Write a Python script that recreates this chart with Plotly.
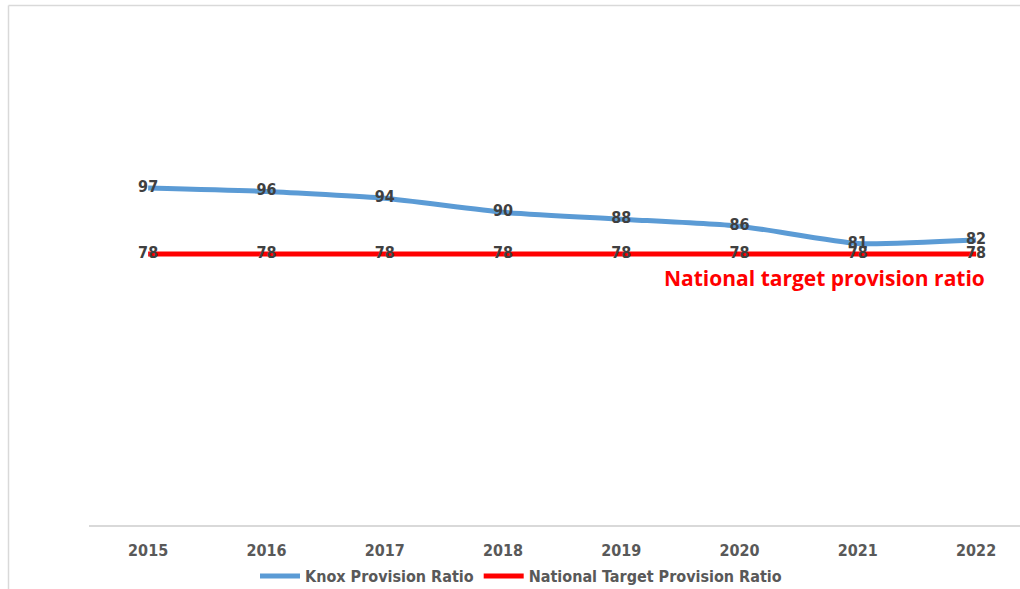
import plotly.graph_objects as go

years = ["2015", "2016", "2017", "2018", "2019", "2020", "2021", "2022"]
knox = [97, 96, 94, 90, 88, 86, 81, 82]
national = [78, 78, 78, 78, 78, 78, 78, 78]

idx = list(range(len(years)))
FONT = "Liberation Sans Narrow, DejaVu Sans Condensed, Roboto"
label_font = dict(family=FONT, size=16, color="#404040", weight="bold")

fig = go.Figure()
fig.add_trace(go.Scatter(
    x=idx, y=knox, mode="lines+text", name="Knox Provision Ratio",
    line=dict(color="#5B9BD5", width=5, shape="spline", smoothing=0.5),
    text=[str(v) for v in knox], textposition="middle center", textfont=label_font,
))
fig.add_trace(go.Scatter(
    x=idx, y=national, mode="lines+text", name="National Target Provision Ratio",
    line=dict(color="#FF0000", width=5),
    text=[str(v) for v in national], textposition="middle center", textfont=label_font,
))

fig.add_annotation(
    x=5.72, y=71.2, xref="x", yref="y", text="National target provision ratio",
    showarrow=False, borderpad=0,
    font=dict(family="Open Sans, Lato, sans-serif", size=21, color="#FF0000", weight="bold"),
)

# chart border (outer frame, partially cropped)
W, H = 1020, 589
l, r, t, b = 89, 0, 108, 64
pw, ph = W - l - r, H - t - b
def px(xp): return (xp - l) / pw
def py(yp): return (H - b - yp) / ph
fig.add_shape(type="line", xref="paper", yref="paper", x0=px(8.5), x1=px(1025), y0=py(5.5), y1=py(5.5),
              line=dict(color="#D9D9D9", width=1.5))
fig.add_shape(type="line", xref="paper", yref="paper", x0=px(8.5), x1=px(8.5), y0=py(5.5), y1=py(600),
              line=dict(color="#D9D9D9", width=1.5))

fig.update_layout(
    width=W, height=H, margin=dict(l=l, r=r, t=t, b=b, autoexpand=False),
    paper_bgcolor="white", plot_bgcolor="white",
    showlegend=True,
    legend=dict(orientation="h", x=(521 - l) / pw, xanchor="center", y=py(576), yanchor="middle",
                bgcolor="rgba(0,0,0,0)",
                font=dict(family=FONT, size=16, color="#595959", weight="bold"),
                itemwidth=40, tracegroupgap=0, traceorder="normal"),
)
fig.update_xaxes(
    tickmode="array", tickvals=idx, ticktext=years, range=[-0.5, (W - 148) / 118.3],
    showgrid=False, zeroline=False, showline=True, linecolor="#D9D9D9", linewidth=1.5,
    ticks="", ticklabelstandoff=10,
    tickfont=dict(family=FONT, size=16, color="#595959", weight="bold"),
)
fig.update_yaxes(range=[0, 120], visible=False, showgrid=False, zeroline=False)

fig.write_html("out.html", config={"displayModeBar": False},
               post_script="document.body.style.margin='0';document.body.style.overflow='hidden';")
